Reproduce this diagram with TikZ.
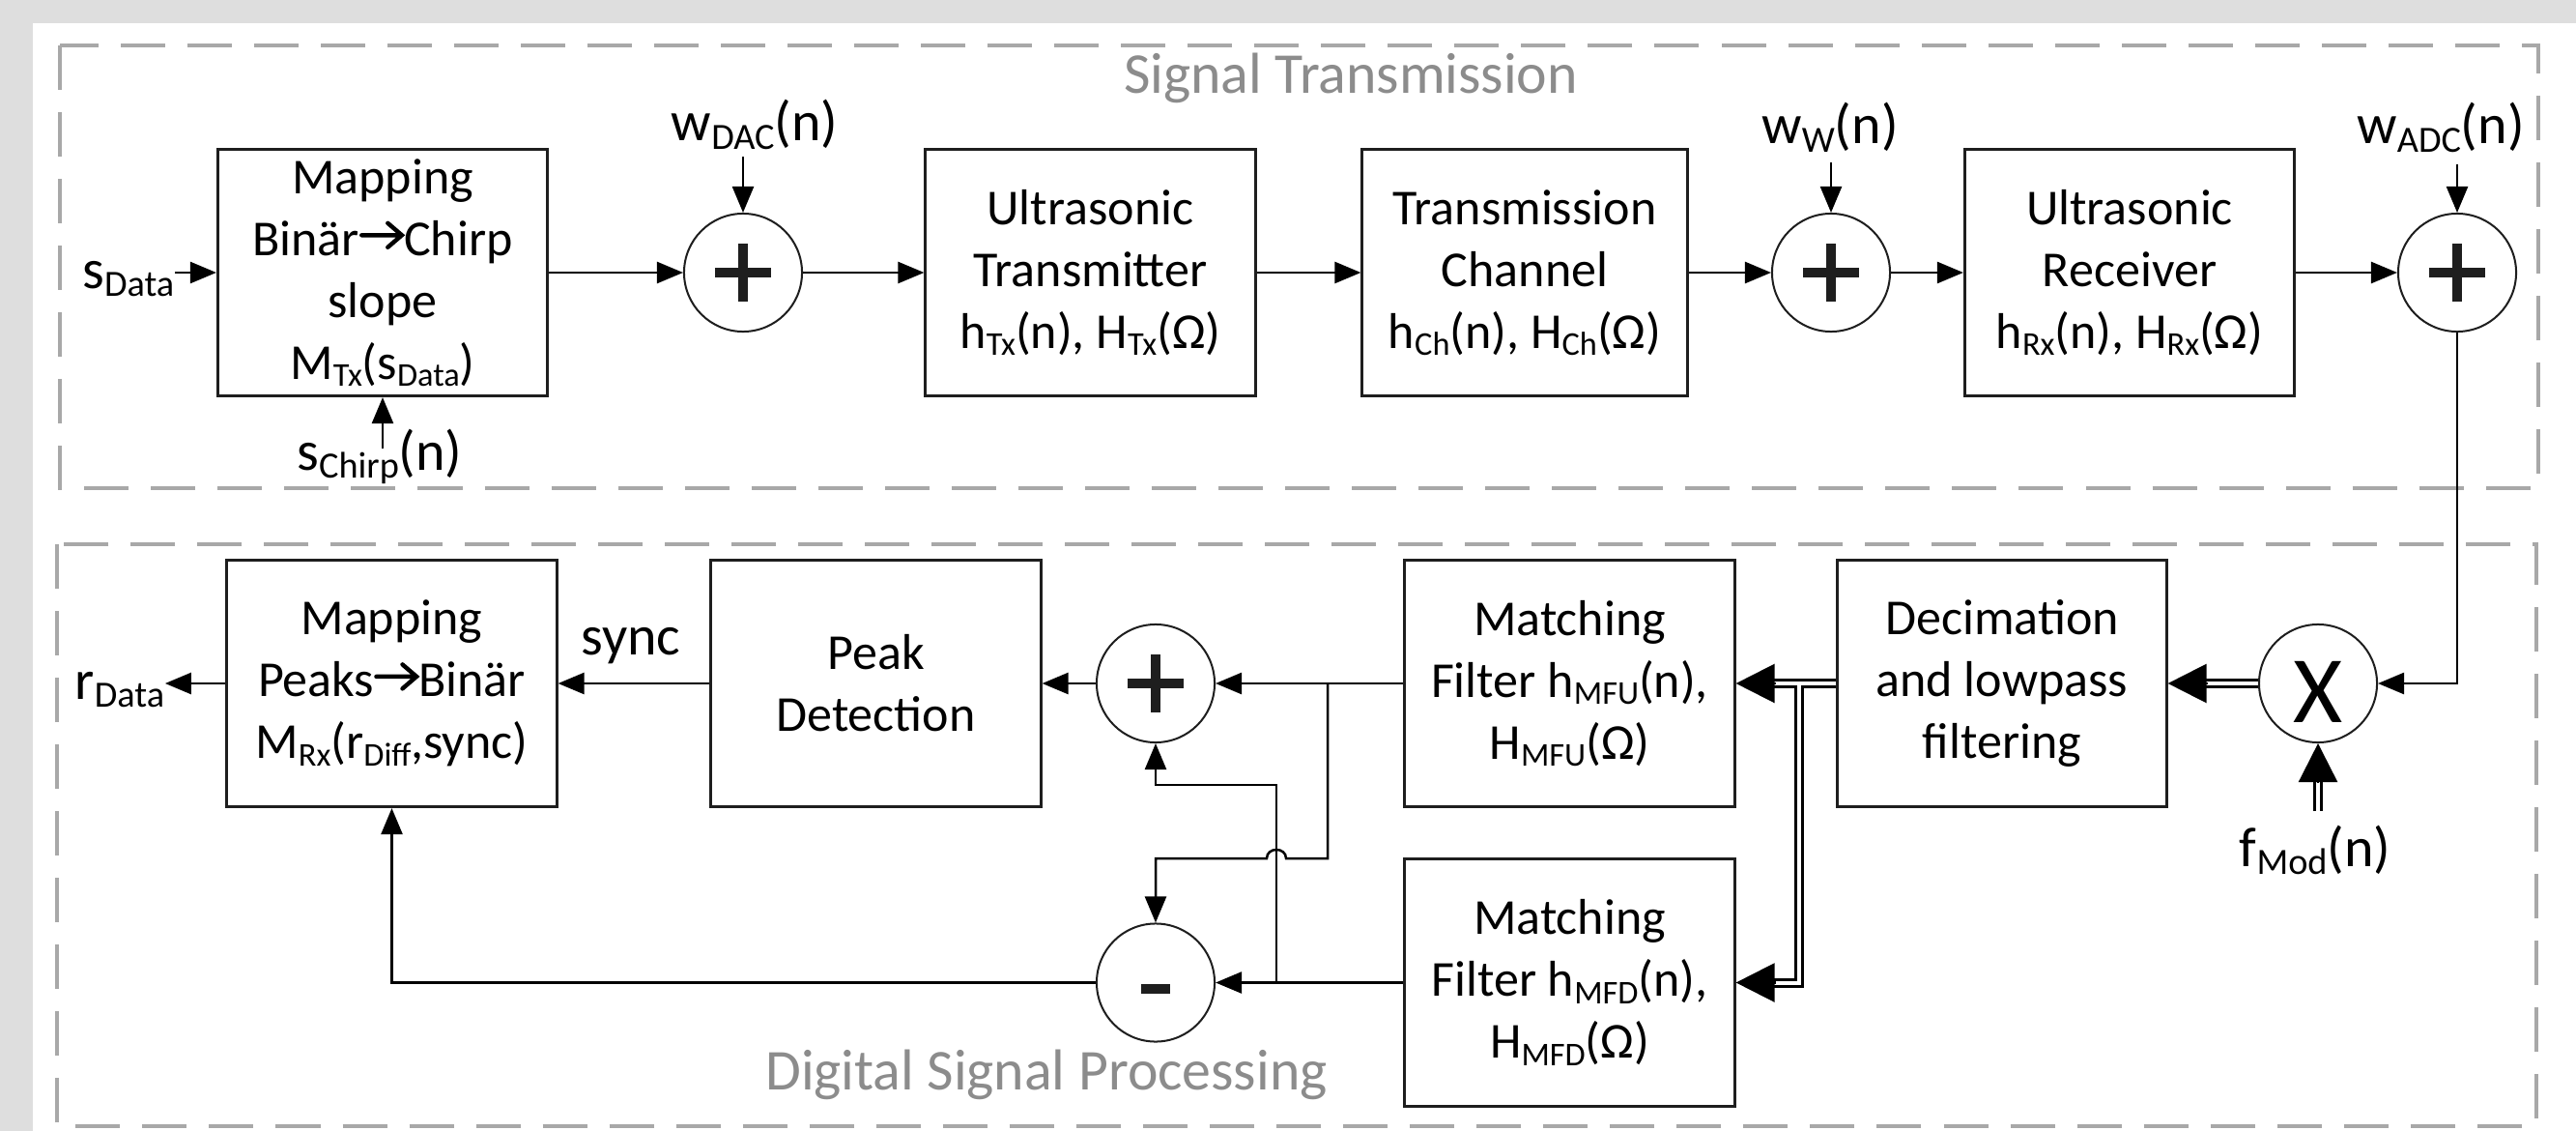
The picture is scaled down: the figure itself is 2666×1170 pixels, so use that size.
\documentclass[tikz,border=0pt]{standalone}
\usepackage{fontspec}
\setmainfont{Carlito}
\usetikzlibrary{arrows.meta,calc}
\definecolor{bggray}{RGB}{222,222,222}
\definecolor{dashgray}{RGB}{168,168,168}
\definecolor{lblgray}{RGB}{140,140,140}
\definecolor{edge}{RGB}{30,30,30}
\newcommand\sbs[1]{\raisebox{-0.14em}{\scalebox{0.66}{#1}}}
\newcommand\chev{\tikz[x=1em,y=1em,baseline=0pt,line cap=round,line join=miter]\draw[line width=0.085em] (0.03,0.40)--(0.82,0.40) (0.55,0.64)--(0.83,0.40)--(0.55,0.16);}
\newcommand\bxfont{\fontsize{14.8pt}{18.2pt}\selectfont}
\newcommand\lbfont{\fontsize{16.5pt}{19pt}\selectfont}
\newcommand\secfont{\fontsize{17pt}{20pt}\selectfont}
\begin{document}
\begin{tikzpicture}[x=0.01cm,y=-0.01cm,
  blk/.style={draw=edge, line width=0.03cm, fill=white, minimum width=3.41cm, minimum height=2.55cm, align=center, font=\bxfont, inner sep=0pt},
  opc/.style={circle, draw=edge, line width=0.02cm, fill=white, minimum size=1.22cm, inner sep=0pt},
  lbl/.style={font=\lbfont, inner sep=0pt},
  sec/.style={font=\secfont, text=lblgray, inner sep=0pt},
  arr/.style={line width=0.025cm, -{Triangle[length=0.27cm,width=0.22cm]}},
  bigtip/.style={line width=0.025cm, -{Triangle[length=0.4cm,width=0.4cm]}},
  dbl/.style={double=white, double distance=0.04cm, line width=0.03cm},
  grp/.style={draw=dashgray, line width=0.045cm, dash pattern=on 0.46cm off 0.23cm},
  plus/.style={opc, path picture={\draw[line width=0.1cm] ([xshift=-0.29cm]path picture bounding box.center) -- ([xshift=0.29cm]path picture bounding box.center) ([yshift=-0.3cm]path picture bounding box.center) -- ([yshift=0.3cm]path picture bounding box.center);}},
  minus/.style={opc, path picture={\draw[line width=0.1cm] ([xshift=-0.15cm,yshift=-0.06cm]path picture bounding box.center) -- ([xshift=0.15cm,yshift=-0.06cm]path picture bounding box.center);}},
]
% background
\fill[bggray] (0,0) rectangle (2666,1170);
\fill[white] (34,24) rectangle (2666,1170);
\useasboundingbox (0,0) rectangle (2666,1170);
% group frames
\draw[grp] (62,47) rectangle (2627,505);
\draw[grp] (59,563) rectangle (2625,1165);
\node[sec, anchor=base] (secTx) at (1398,97) {Signal Transmission};
\node[sec, anchor=base] (secDsp) at (1083,1127) {Digital Signal Processing};

% ---------- upper row ----------
\node[blk] (mapTx) at (396,282) {Mapping\\Binär\chev Chirp\\slope\\M\sbs{Tx}(s\sbs{Data})};
\node[blk] (tx) at (1128.5,282) {Ultrasonic\\Transmitter\\h\sbs{Tx}(n), H\sbs{Tx}(Ω)};
\node[blk, minimum width=3.36cm] (ch) at (1578,282) {Transmission\\Channel\\h\sbs{Ch}(n), H\sbs{Ch}(Ω)};
\node[blk] (rx) at (2204,282) {Ultrasonic\\Receiver\\h\sbs{Rx}(n), H\sbs{Rx}(Ω)};
\node[plus] (s1) at (769,282) {};
\node[plus] (s2) at (1895,282) {};
\node[plus] (s3) at (2543,282) {};

\node[lbl, anchor=base] (wDAC) at (781,146) {w\sbs{DAC}(n)};
\node[lbl, anchor=base] (wW) at (1894,149) {w\sbs{W}(n)};
\node[lbl, anchor=base] (wADC) at (2526,149) {w\sbs{ADC}(n)};
\node[lbl, anchor=base east] (sData) at (181,298) {s\sbs{Data}};
\node[lbl, anchor=base] (sChirp) at (393,486) {s\sbs{Chirp}(n)};
\coordinate (wDACt) at (769,162);
\coordinate (wWt) at (1895,168);
\coordinate (wADCt) at (2543,170);
\coordinate (sChirpt) at (396,464);

\draw[arr] (sData.east |- mapTx.west) -- (mapTx.west);
\draw[arr] (sChirpt) -- (mapTx.south);
\draw[arr] (mapTx.east) -- (s1.west);
\draw[arr] (wDACt) -- (s1.north);
\draw[arr] (s1.east) -- (tx.west);
\draw[arr] (tx.east) -- (ch.west);
\draw[arr] (ch.east) -- (s2.west);
\draw[arr] (wWt) -- (s2.north);
\draw[arr] (s2.east) -- (rx.west);
\draw[arr] (rx.east) -- (s3.west);
\draw[arr] (wADCt) -- (s3.north);

% ---------- lower row ----------
\node[blk] (mapRx) at (405.5,707) {Mapping\\Peaks\chev Binär\\M\sbs{Rx}(r\sbs{Diff},sync)};
\node[blk] (peak) at (906.5,707) {Peak\\Detection};
\node[blk] (mfu) at (1624.5,707) {Matching\\Filter h\sbs{MFU}(n),\\H\sbs{MFU}(Ω)};
\node[blk] (mfd) at (1624.5,1016.5) {Matching\\Filter h\sbs{MFD}(n),\\H\sbs{MFD}(Ω)};
\node[blk, minimum width=3.40cm] (dec) at (2072,707) {Decimation\\and lowpass\\filtering};
\node[plus] (s4) at (1196,707) {};
\node[minus] (s5) at (1196,1016.5) {};
\node[opc, font=\fontsize{28pt}{28pt}\selectfont, text height=23pt, text depth=0pt] (mul) at (2399,707) {X};

\node[lbl, anchor=base west] (rData) at (77,723) {r\sbs{Data}};
\node[lbl, anchor=base] (sync) at (653,677) {sync};
\node[lbl, anchor=base] (fMod) at (2396,896) {f\sbs{Mod}(n)};
\coordinate (fModt) at (2399,839);
\coordinate (jn) at (1862,707);
\coordinate (bu) at (1374,707);
\coordinate (bd) at (1321,1016.5);
\coordinate (hy) at (0,888);
\coordinate (uy) at (0,812);

% receiver feed
\draw[arr] (s3.south) |- (mul.east);
\draw[dbl] (mul.west) -- ($(dec.east)+(38,0)$);
\draw[bigtip] ($(dec.east)+(41,0)$) -- (dec.east);
\draw[dbl] (fModt) -- ($(mul.south)+(0,37)$);
\draw[bigtip] ($(mul.south)+(0,41)$) -- (mul.south);
\draw[dbl] (dec.west) -- (jn) -- ($(mfu.east)+(38,0)$) (jn) |- ($(mfd.east)+(38,0)$);
\draw[bigtip] ($(mfu.east)+(41,0)$) -- (mfu.east);
\draw[bigtip] ($(mfd.east)+(41,0)$) -- (mfd.east);

% matched filter outputs
\draw[arr] (mfu.west) -- (s4.east);
\draw[arr] (mfd.west) -- (s5.east);
\draw[arr] (bu) -- (bu |- hy) -- ($(bd |- hy)+(10,0)$) .. controls ($(bd |- hy)+(10,-12)$) and ($(bd |- hy)+(-10,-12)$) .. ($(bd |- hy)+(-10,0)$) -- (s5 |- hy) -- (s5.north);
\draw[arr] (bd) -- (bd |- uy) -| (s4.south);

% to detection and mapping
\draw[arr] (s4.west) -- (peak.east);
\draw[arr] (peak.west) -- (mapRx.east);
\draw[arr] (s5.west) -| (mapRx.south);
\draw[arr] (mapRx.west) -- (rData.east |- mapRx.west);
\end{tikzpicture}
\end{document}
